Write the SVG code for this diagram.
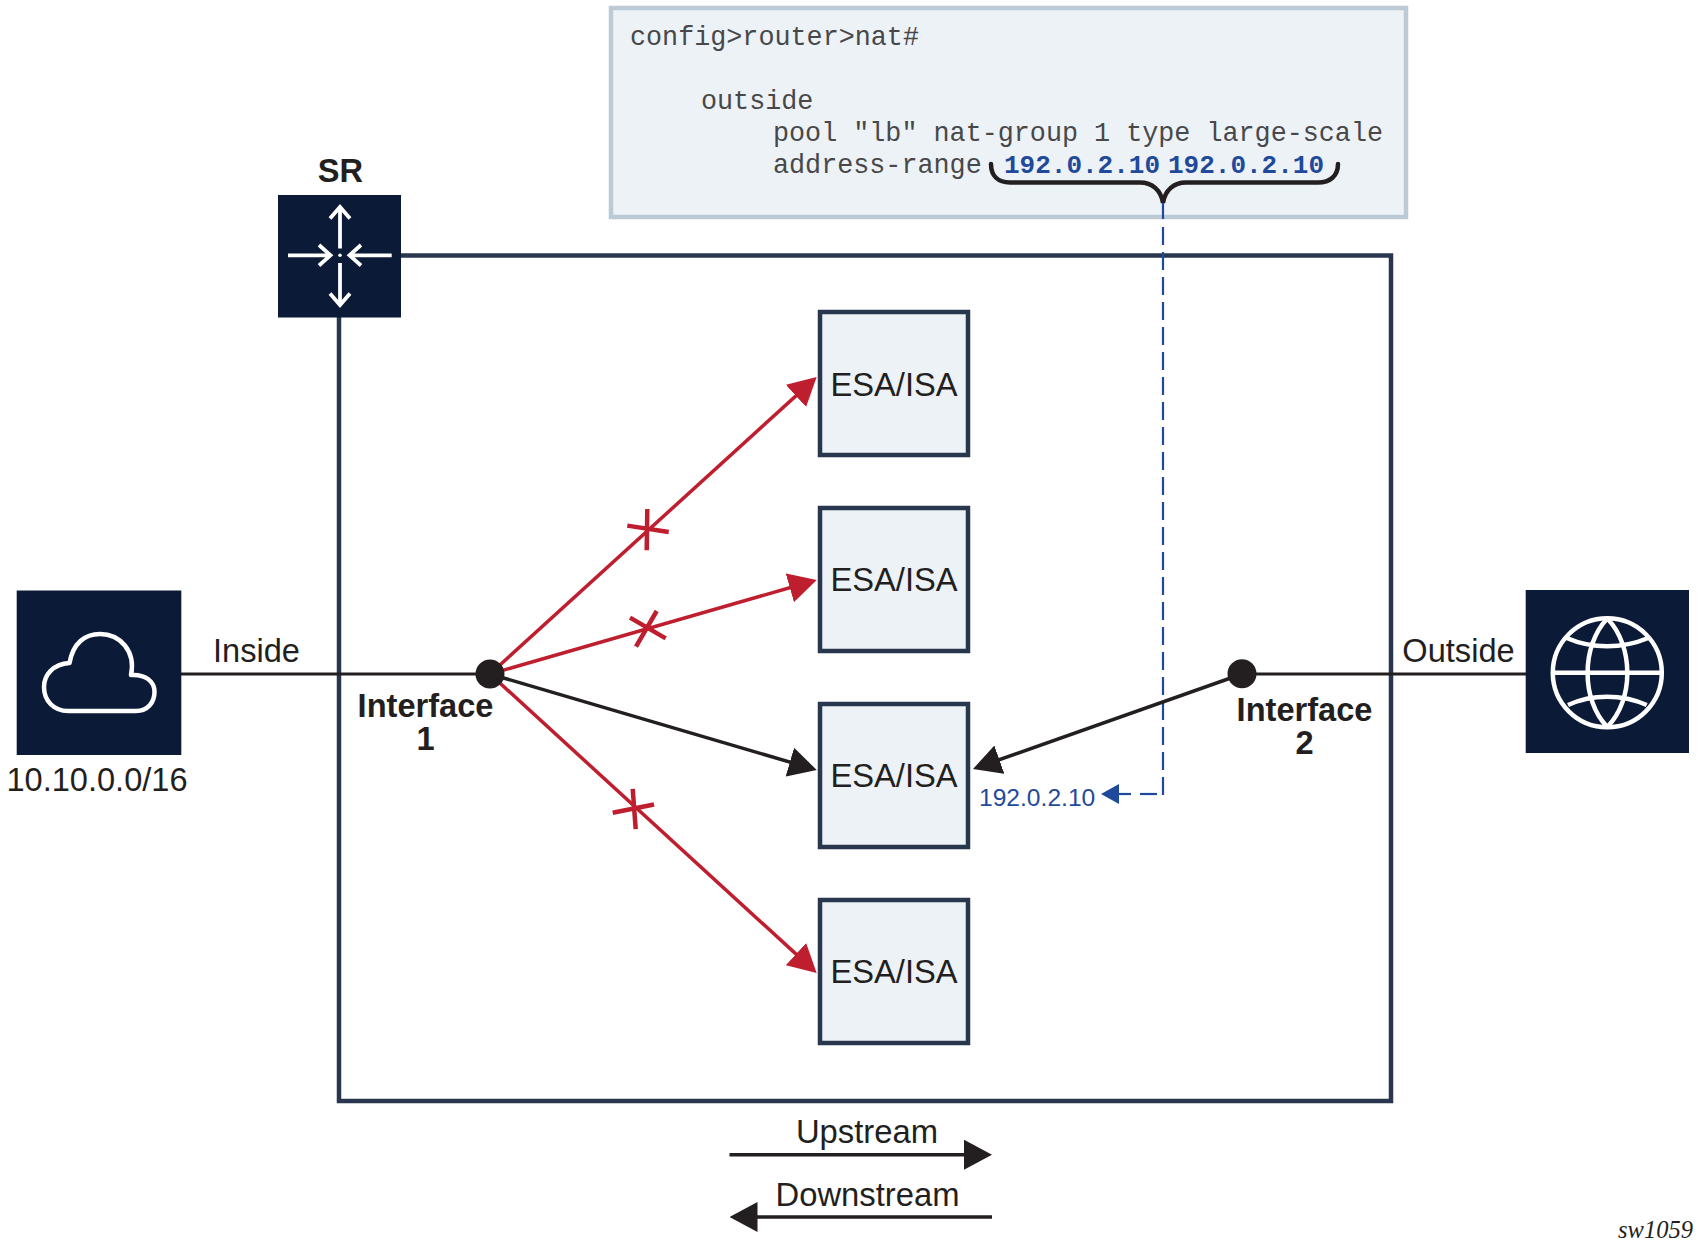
<svg xmlns="http://www.w3.org/2000/svg" width="1699" height="1252" viewBox="0 0 1699 1252">
<style>
text{font-family:"Liberation Sans",Arial,sans-serif;font-size:32.6px;fill:#231f20}
.b{font-weight:700}
.m{text-anchor:middle}
.code{font-family:"Liberation Mono","Courier New",monospace;font-size:26.75px;fill:#48484a}
.ip{font-family:"Liberation Mono","Courier New",monospace;font-size:26px;font-weight:700;fill:#1f4a9b}
.dark{fill:#0b1a36}
.esa{fill:#edf2f7;stroke:#28374d;stroke-width:4.5}
.esat{font-size:32.7px;text-anchor:middle}
.ico{fill:none;stroke:#fff;stroke-width:4.5;stroke-linecap:round;stroke-linejoin:round}
.k{fill:none;stroke:#231f20;stroke-width:3.5}
.r{fill:none;stroke:#bf1e2e;stroke-width:3.5}
.x{fill:none;stroke:#bf1e2e;stroke-width:4.5}
.dash{fill:none;stroke:#1f4a9b;stroke-width:2.2}
</style>
<defs>
<marker id="ak" markerUnits="userSpaceOnUse" markerWidth="28" markerHeight="30" refX="16" refY="15" orient="auto"><path d="M0 0L28 15L0 30Z" fill="#231f20"/></marker>
<marker id="ar" markerUnits="userSpaceOnUse" markerWidth="28" markerHeight="30" refX="16" refY="15" orient="auto"><path d="M0 0L28 15L0 30Z" fill="#bf1e2e"/></marker>
<marker id="ab" markerUnits="userSpaceOnUse" markerWidth="18" markerHeight="20" refX="9" refY="10" orient="auto"><path d="M0 0L18 10L0 20Z" fill="#1f4a9b"/></marker>
</defs>
<rect width="1699" height="1252" fill="#fff"/>
<g id="frame"><rect x="339" y="255.5" width="1052" height="845.5" fill="none" stroke="#28374d" stroke-width="4.5"/></g>
<g id="config">
<rect x="611" y="8" width="795" height="209" fill="#edf2f7" stroke="#bccad6" stroke-width="4.5"/>
<text class="code" x="630" y="45">config&gt;router&gt;nat#</text>
<text class="code" x="701" y="109">outside</text>
<text class="code" x="773" y="141">pool "lb" nat-group 1 type large-scale</text>
<text class="code" x="773" y="173">address-range</text>
<text class="ip" x="1004" y="173">192.0.2.10</text>
<text class="ip" x="1168" y="173">192.0.2.10</text>
<path d="M991 164C991 176 998 182.500 1010 182.500L1140 182.500C1152 182.500 1161 190 1163 203C1165 190 1174 182.500 1186 182.500L1318 182.500C1330 182.500 1338 176 1338 164" fill="none" stroke="#231f20" stroke-width="4.500" stroke-linecap="round"/>
</g>
<g id="connectors">
<path class="k" style="stroke-width:3" d="M181 674H490"/>
<path class="k" style="stroke-width:3" d="M1242 674H1526"/>
<path class="dash" d="M1163 203V219"/>
<path class="dash" stroke-dasharray="18 7" d="M1163 227V795"/>
<path class="dash" d="M1157 794H1140"/>
<path class="dash" d="M1131 794H1110" marker-end="url(#ab)"/>
<path class="r" d="M490 674L807.8 385.1" marker-end="url(#ar)"/>
<path class="r" d="M490 674L805.2 583.3" marker-end="url(#ar)"/>
<path class="k" d="M490 674L805.2 766.6" marker-end="url(#ak)"/>
<path class="r" d="M490 674L807.8 964.9" marker-end="url(#ar)"/>
<path class="k" d="M1242 674L984.3 765" marker-end="url(#ak)"/>
<path class="x" d="M647.3 509L646.7 550.3M627.3 525.6L668.7 532"/>
<path class="x" d="M630 617.6L665.7 638.4M656.7 611L636 646.6"/>
<path class="x" d="M632.7 788.8L635.7 829.2M612.7 812.7L654 804.5"/>
<path class="k" d="M729.5 1154.7H980" marker-end="url(#ak)"/>
<path class="k" d="M992 1217H741.5" marker-end="url(#ak)"/>
</g>
<g id="sr">
<rect class="dark" x="278" y="195" width="123" height="122.5"/>
<path class="ico" style="stroke-width:3.800;stroke-linecap:butt;stroke-linejoin:miter" d="M340 248.500V208M330 218.500L340 207L350 218.500M340 263V304M330 293.500L340 305L350 293.500M288 255.300H329M319 245L330.500 255.300L319 265.500M391.700 255.300H350M361 245L349.500 255.300L361 265.500"/>
<circle cx="340" cy="255.300" r="1.800" fill="#fff"/>
<text class="b m" x="340.500" y="182">SR</text>
</g>
<g id="cloud">
<rect class="dark" x="16.700" y="590.500" width="164.600" height="164.500"/>
<path class="ico" d="M68 711L136 711C148 711 154.500 702 154.500 692C154.500 681 145 674 131 675C136 651 120 634 100 634C85 634 73 643 69.500 663C53 664 44 675 44 687C44 701 54 711 68 711Z"/>
<text class="m" x="97" y="791">10.10.0.0/16</text>
</g>
<g id="globe">
<rect class="dark" x="1525.700" y="590" width="163.300" height="163"/>
<g class="ico" style="stroke-linecap:butt">
<ellipse cx="1607.300" cy="672.800" rx="54.500" ry="54.500"/>
<path d="M1553 672.800H1662M1607.300 618.500C1581 646 1581 700 1607.300 727M1607.300 618.500C1634 646 1634 700 1607.300 727M1566.700 638C1592 649 1622 649 1648.300 638M1568 705C1592 694 1622 694 1646.700 705"/>
</g>
</g>
<g id="esa1"><rect class="esa" x="820" y="312" width="148" height="143"/><text class="esat" x="894" y="395.500">ESA/ISA</text></g>
<g id="esa2"><rect class="esa" x="820" y="508" width="148" height="143"/><text class="esat" x="894" y="590.800">ESA/ISA</text></g>
<g id="esa3"><rect class="esa" x="820" y="704" width="148" height="143"/><text class="esat" x="894" y="786.500">ESA/ISA</text></g>
<g id="esa4"><rect class="esa" x="820" y="900" width="148" height="143"/><text class="esat" x="894" y="982.500">ESA/ISA</text></g>
<g id="interface1">
<circle cx="490" cy="674" r="14.500" fill="#231f20"/>
<text class="b m" x="425.500" y="716.500">Interface</text>
<text class="b m" x="425.500" y="749.500">1</text>
</g>
<g id="interface2">
<circle cx="1242" cy="673.700" r="14.500" fill="#231f20"/>
<text class="b m" x="1304.500" y="720.500">Interface</text>
<text class="b m" x="1304.500" y="753.500">2</text>
</g>
<g id="labels">
<text x="213" y="662">Inside</text>
<text class="m" x="1458.500" y="662">Outside</text>
<text x="979" y="805.700" style="font-size:24.600px;fill:#1f4a9b">192.0.2.10</text>
<text class="m" x="867" y="1143" style="font-size:32.800px">Upstream</text>
<text class="m" x="867.500" y="1205.500" style="font-size:32.800px">Downstream</text>
<text x="1618" y="1238" style="font-family:'Liberation Serif',serif;font-style:italic;font-size:24.500px">sw1059</text>
</g>
</svg>
